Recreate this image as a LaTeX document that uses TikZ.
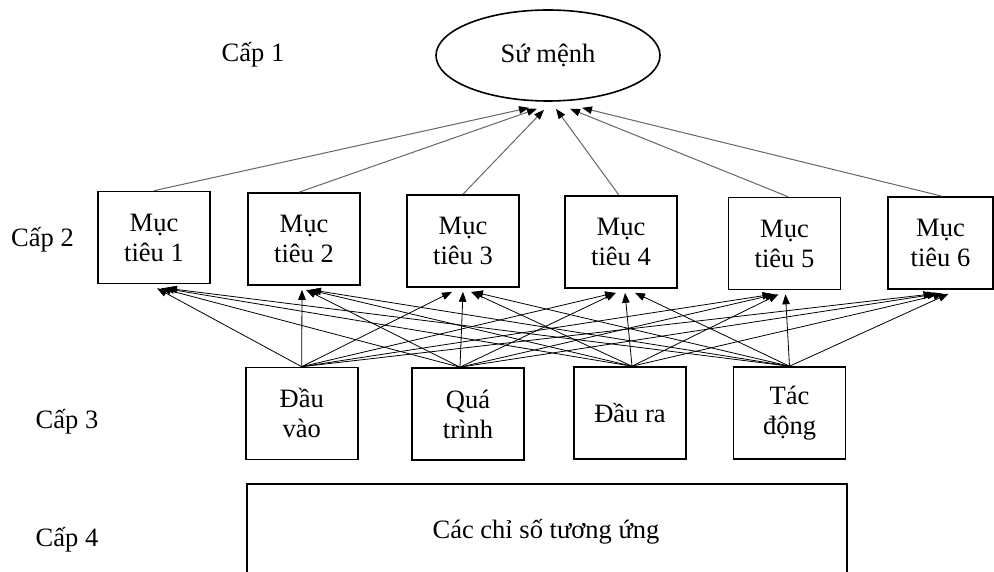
\documentclass[tikz,border=0pt]{standalone}
\usepackage{fontspec}
\setmainfont{Liberation Serif}
\usetikzlibrary{arrows.meta,shapes.geometric,calc}
\begin{document}
\begin{tikzpicture}[x=1pt,y=-1pt,
  every node/.style={font=\fontsize{26.5}{30}\selectfont, inner sep=0pt},
  box/.style={draw, line width=1.6pt, align=center, minimum height=92pt},
  goal/.style={box, minimum width=112pt},
  lvlbox/.style={box, minimum width=112pt},
  lbl/.style={anchor=base},
  uparrow/.style={-{Triangle[length=10pt,width=7.5pt]}, line width=0.8pt, draw=black},
  grayarrow/.style={-{Triangle[length=10pt,width=7.5pt,color=black]}, line width=1pt, draw=black!60}
]
\useasboundingbox (0,0) rectangle (994,572);
\clip (0,0) rectangle (994,572);

% level labels
\node[lbl] (l1) at (253,62) {Cấp 1};
\node[lbl] (l2) at (42.5,246.5) {Cấp 2};
\node[lbl] (l3) at (67,428) {Cấp 3};
\node[lbl] (l4) at (67,546.5) {Cấp 4};

% level 1
\node[ellipse, draw, line width=1.6pt, minimum width=224pt, minimum height=91pt] (mission) at (548,55.5) {Sứ mệnh};

% level 2
\node[goal] (g1) at (154,237.5) {Mục\\tiêu 1};
\node[goal] (g2) at (304,239) {Mục\\tiêu 2};
\node[goal] (g3) at (463,241) {Mục\\tiêu 3};
\node[goal] (g4) at (621,242) {Mục\\tiêu 4};
\node[goal] (g5) at (784.5,243.5) {Mục\\tiêu 5};
\node[goal, minimum width=105pt] (g6) at (940.5,243) {Mục\\tiêu 6};

% level 3
\node[lvlbox] (c1) at (301.7,413.5) {Đầu\\vào};
\node[lvlbox] (c2) at (468,414) {Quá\\trình};
\node[lvlbox] (c3) at (630,413) {Đầu ra};
\node[lvlbox] (c4) at (789.5,413) {Tác\\động};

% level 4
\node[draw, line width=1.6pt, minimum width=600pt, minimum height=120pt, anchor=north west] (indbox) at (246,483) {};
\node[lbl] (ind) at (546,538) {Các chỉ số tương ứng};

% level 2 -> level 1
\draw[grayarrow] (g1.north) -- ($(mission.south)+(-19,6)$);
\draw[grayarrow] ($(g2.north)+(-5,0)$) -- ($(mission.south)+(-11,7)$);
\draw[grayarrow] (g3.north) -- ($(mission.south)+(-4,8)$);
\draw[grayarrow] ($(g4.north)+(-2,0)$) -- ($(mission.south)+(8,7)$);
\draw[grayarrow] ($(g5.north)+(3.5,0)$) -- ($(mission.south)+(22,7)$);
\draw[grayarrow] ($(g6.north)+(1.5,0)$) -- ($(mission.south)+(34,6)$);

% level 3 sources
\coordinate (s1) at (c1.north);
\coordinate (s2) at ($(c2.north)+(-8,0)$);
\coordinate (s3) at ($(c3.north)+(2,0)$);
\coordinate (s4) at (c4.north);

% level 3 -> level 2
\foreach \s/\d in {s1/3, s2/7, s3/10, s4/13}
  \draw[uparrow] (\s) -- ($(g1.south)+(\d,4)$);
\foreach \s/\d in {s1/-2, s2/2, s3/5, s4/7}
  \draw[uparrow] (\s) -- ($(g2.south)+(\d,4)$);
\foreach \s/\d in {s1/-11, s2/0, s3/8, s4/10}
  \draw[uparrow] (\s) -- ($(g3.south)+(\d,4)$);
\foreach \s/\d in {s1/-6, s2/-5, s3/4, s4/14}
  \draw[uparrow] (\s) -- ($(g4.south)+(\d,4)$);
\foreach \s/\d in {s1/-12, s2/-9, s3/-6, s4/1}
  \draw[uparrow] (\s) -- ($(g5.south)+(\d,4)$);
\foreach \s/\d in {s1/-7, s2/-3, s3/3, s4/8}
  \draw[uparrow] (\s) -- ($(g6.south)+(\d,4)$);
\end{tikzpicture}
\end{document}
